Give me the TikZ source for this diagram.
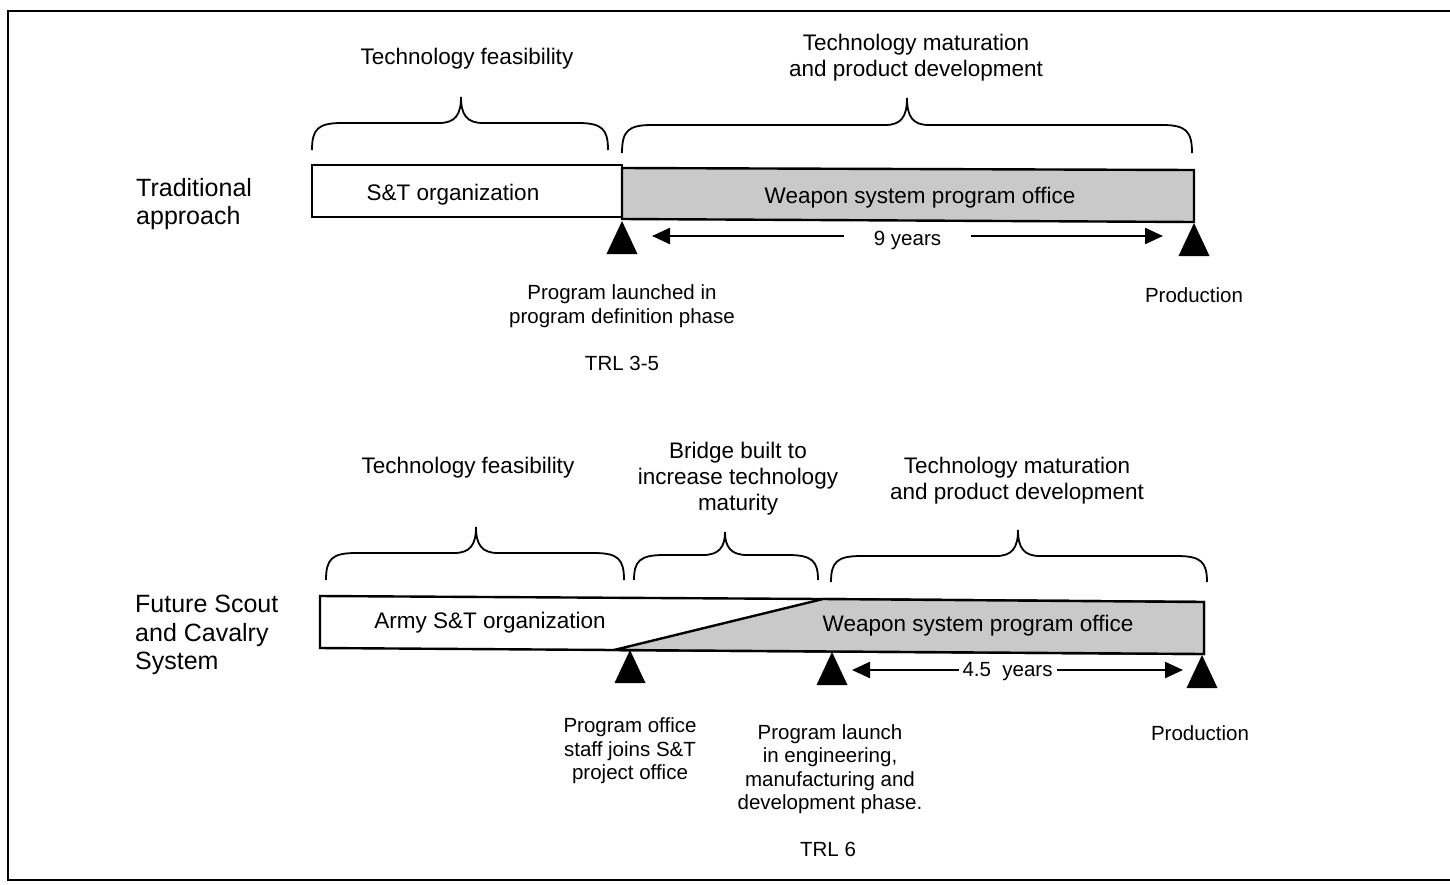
\documentclass[tikz,border=0pt]{standalone}
\usepackage{fontspec}
\setmainfont{Liberation Sans}
\usetikzlibrary{arrows.meta}
\tikzset{
  big/.style={font=\fontsize{25}{28.5}\selectfont, align=left, anchor=west, inner sep=0pt, yshift=-2pt},
  head/.style={font=\fontsize{22.5}{26}\selectfont, align=center, inner sep=0pt, yshift=-2pt},
  note/.style={font=\fontsize{20.5}{23.5}\selectfont, align=center, inner sep=0pt, yshift=-2pt},
  barline/.style={line width=2.4pt, line join=miter},
  brace/.style={line width=1.8pt},
  tri/.style={fill=black},
  span/.style={line width=2.4pt, {Triangle[length=18pt,width=16pt]}-{Triangle[length=18pt,width=16pt]}},
  shade/.style={fill=gray!42}
}
\newcommand{\bracepath}[6]{% x1 x2 xm yend ybar ytip
  \draw[brace] (#1,#4) .. controls (#1,#5+6) and (#1+6,#5) .. (#1+30,#5) -- (#3-22,#5)
    .. controls (#3-6,#5) and (#3,#5-8) .. (#3,#6)
    .. controls (#3,#5-8) and (#3+6,#5) .. (#3+22,#5) -- (#2-30,#5)
    .. controls (#2-6,#5) and (#2,#5+6) .. (#2,#4);}
\newcommand{\mytri}[1]{\fill[tri] (#1) -- ++(-15.5,33) -- ++(31,0) -- cycle;}
\begin{document}
\begin{tikzpicture}[x=1pt,y=-1pt]
\useasboundingbox (0,0) rectangle (1450,884);
% frame
\draw[line width=2.6pt] (1450,11) -- (8,11) -- (8,880) -- (1450,880);

% ---------- Traditional approach ----------
\node[big] (trad) at (136,202) {Traditional\\approach};
\node[head] (tf1) at (467,57) {Technology feasibility};
\node[head] (tm1) at (916,56) {Technology maturation\\and product development};
\bracepath{312}{608}{461}{150}{123}{97}
\bracepath{622}{1192}{907}{153}{125}{98}

\draw[barline, fill=white] (312,165) rectangle (622,217);
\draw[barline, shade] (622,168) -- (1194,170) -- (1194,222) -- (622,219) -- cycle;
\node[head] (st1) at (453,193) {S\&T organization};
\node[head] (wp1) at (920,196) {Weapon system program office};

\coordinate (t1) at (622,221);
\coordinate (t2) at (1194,223);
\mytri{t1}
\mytri{t2}
\coordinate (a1l) at (652,236);
\coordinate (a1r) at (1163,236);
\draw[span] (a1l) -- node[note, fill=white, inner xsep=30pt, inner ysep=3pt, yshift=-2pt] (y9) {9 years} (a1r);

\node[note] (pl1) at (622,304) {Program launched in\\program definition phase};
\node[note] (trl1) at (622,361) {TRL 3-5};
\node[note] (pr1) at (1194,293) {Production};

% ---------- Future Scout and Cavalry System ----------
\node[big] (fscs) at (135,633) {Future Scout\\and Cavalry\\System};
\node[head] (tf2) at (468,466) {Technology feasibility};
\node[head] (bb) at (738,477) {Bridge built to\\increase technology\\maturity};
\node[head] (tm2) at (1017,479) {Technology maturation\\and product development};
\bracepath{326}{624}{476}{580}{553}{527}
\bracepath{634}{818}{725}{580}{555}{532}
\bracepath{831}{1207}{1018}{582}{556}{530}

\draw[barline, fill=white] (320,596) -- (822,599) -- (1204,602) -- (1204,654) -- (614,650) -- (320,648) -- cycle;
\draw[barline, shade] (614,650) -- (823,599) -- (1204,602) -- (1204,654) -- cycle;
\node[head] (st2) at (490,621) {Army S\&T organization};
\node[head] (wp2) at (978,624) {Weapon system program office};

\coordinate (t3) at (630,650);
\coordinate (t4) at (832,652);
\coordinate (t5) at (1202,655);
\mytri{t3}
\mytri{t4}
\mytri{t5}
\coordinate (a2l) at (852,670);
\coordinate (a2r) at (1183,670);
\draw[span] (a2l) -- node[note, fill=white, inner xsep=4pt, inner ysep=3pt, pos=0.47] (y45) {4.5\ \ years} (a2r);

\node[note] (po) at (630,749) {Program office\\staff joins S\&T\\project office};
\node[note] (pl2) at (830,767) {Program launch\\in engineering,\\manufacturing and\\development phase.};
\node[note] (trl2) at (828,847) {TRL 6};
\node[note] (pr2) at (1200,731) {Production};
\end{tikzpicture}
\end{document}
